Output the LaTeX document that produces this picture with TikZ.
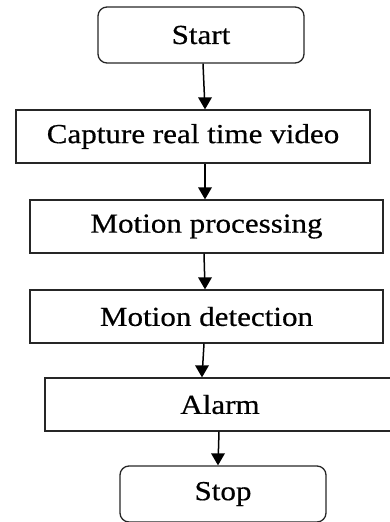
\documentclass[tikz,border=0pt]{standalone}
\usepackage{fontspec}
\setmainfont[FakeStretch=1.13,FakeBold=0.5]{Liberation Serif}
\begin{document}
\begin{tikzpicture}[x=1pt,y=1pt,
  box/.style={draw=black!85, line width=1.3pt, inner sep=0pt, font=\fontsize{27.5}{30}\selectfont},
  rbox/.style={box, rounded corners=9pt},
  arr/.style={draw=black, line width=1.5pt, shorten >=9pt},
  tip/.style={fill=black}]
\useasboundingbox (0,0) rectangle (390,522);
\clip (0,0) rectangle (390,522);
\node[rbox, minimum width=206pt, minimum height=56pt] (start) at (201,487) {Start};
\node[box, minimum width=354pt, minimum height=53pt] (capture) at (193,385.5) {Capture real time video};
\node[box, minimum width=353pt, minimum height=53pt] (proc) at (206.5,295.5) {Motion processing};
\node[box, minimum width=353pt, minimum height=53pt] (detect) at (206.5,205.5) {Motion detection};
\node[box, minimum width=350pt, minimum height=53pt] (alarm) at (220,117.5) {Alarm};
\node[rbox, minimum width=206pt, minimum height=56pt] (stop) at (223,28) {Stop};
\coordinate (t1) at ([xshift=12pt]capture.north);
\coordinate (t2) at ([xshift=-1.5pt]proc.north);
\coordinate (t3) at ([xshift=-1.5pt]detect.north);
\coordinate (t4) at ([xshift=-18pt]alarm.north);
\coordinate (t5) at ([xshift=-5pt]stop.north);
\draw[arr] ([xshift=2pt]start.south) -- (t1);
\draw[arr] ([xshift=12pt]capture.south) -- (t2);
\draw[arr] ([xshift=-2.5pt]proc.south) -- (t3);
\draw[arr] ([xshift=-2.5pt]detect.south) -- (t4);
\draw[arr] ([xshift=-1pt]alarm.south) -- (t5);
\foreach \p in {t1,t2,t3,t4,t5}
  \fill[tip] (\p) -- ++(-7,12) -- ++(14,0) -- cycle;
\end{tikzpicture}
\end{document}
